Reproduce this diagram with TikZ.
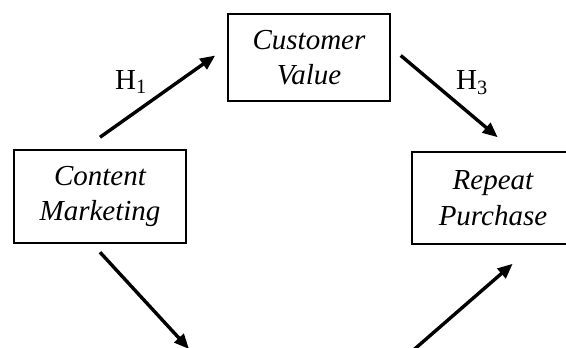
\documentclass[tikz,border=0pt]{standalone}
\usepackage{fontspec}
\setmainfont{Liberation Serif}
\usetikzlibrary{arrows.meta}
\tikzset{
  box/.style={rectangle,draw,line width=1.5pt,align=center,inner sep=0pt,font=\itshape\fontsize{29}{35.5}\selectfont},
  line/.style={-{Triangle[length=15pt,width=12.5pt]},line width=3.4pt},
  hyp/.style={font=\fontsize{29}{35}\selectfont,inner sep=0pt}
}

\begin{document}
\begin{tikzpicture}[x=1pt,y=-1pt]
\useasboundingbox (0,0) rectangle (566,348);
\node[box, minimum width=162pt, minimum height=87pt] (cv) at (309,57.5) {Customer\\Value};
\node[box, minimum width=172pt, minimum height=93pt] (cm) at (100,196.5) {Content\\Marketing};
\node[box, minimum width=162pt, minimum height=92pt] (rp) at (493,198) {Repeat\\Purchase};
% the node below lies outside the cropped picture
\coordinate (bl) at (189,349);
\coordinate (br) at (402,360);
\node[hyp] (h1) at (131,82) {H\textsubscript{1}};
\node[hyp] (h3) at (472,83) {H\textsubscript{3}};
\draw[line] ([yshift=12pt]cm.north) -- ([xshift=-12pt,yshift=2pt]cv.west);
\draw[line] ([xshift=10pt,yshift=2pt]cv.east) -- ([xshift=4.7pt,yshift=14pt]rp.north);
\draw[line] ([yshift=-8.5pt]cm.south) -- (bl);
\draw[line] (br) -- ([xshift=19.7pt,yshift=-19pt]rp.south);
\end{tikzpicture}
\end{document}
